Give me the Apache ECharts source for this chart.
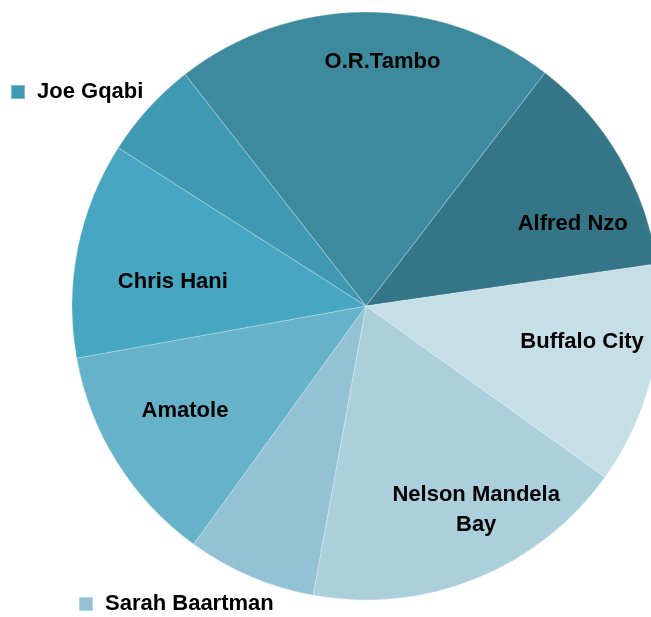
<!DOCTYPE html>
<html>
<head>
<meta charset="utf-8">
<title>Eastern Cape districts</title>
<script src="https://cdn.jsdelivr.net/npm/echarts@6/dist/echarts.min.js"></script>
<style>
  html, body { margin: 0; padding: 0; background: #ffffff; }
  #chart { width: 651px; height: 617px; }
</style>
</head>
<body>
<div id="chart"></div>
<script>
// District shares (%), listed clockwise from O.R.Tambo
const districts = ['O.R.Tambo', 'Alfred Nzo', 'Buffalo City', 'Nelson Mandela Bay',
                   'Sarah Baartman', 'Amatole', 'Chris Hani', 'Joe Gqabi'];
const shares = [21.0, 12.3, 12.2, 18.0, 7.1, 12.2, 11.9, 5.4];

// Slice fills
const sliceColors = ['#3d8a9e', '#347688', '#c6dee6', '#abd0dc',
                     '#92c2d3', '#65b2ca', '#47a6c1', '#4099b3'];

// Label text shown inside a slice (empty = named in a legend instead)
const sliceLabels = ['O.R.Tambo', 'Alfred Nzo', 'Buffalo City', 'Nelson Mandela\nBay',
                     '', 'Amatole', 'Chris Hani', ''];

// Label placement: fraction of the radius and turn (deg, clockwise) from slice middle
const labelRadius = [0.832, 0.757, 0.745, 0.788, 0, 0.712, 0.662, 0];
const labelTurn = [4.1, 8.6, -4.3, -6.4, 0, 2.0, -4.2, 0];

const CX = 366, CY = 306, R = 294;
const START_ANGLE = 128; // degrees, ECharts convention (90 = 12 o'clock)

// Mid-angle of every slice, measured clockwise from 12 o'clock
const total = shares.reduce((a, b) => a + b, 0);
const startCw = 90 - START_ANGLE;
const midAngles = [];
let acc = startCw;
shares.forEach(v => {
  const span = v / total * 360;
  midAngles.push(acc + span / 2);
  acc += span;
});

const font = { fontFamily: '"Liberation Sans", Arial, sans-serif', fontWeight: 'bold', fontSize: 22, color: '#000000' };

const chart = echarts.init(document.getElementById('chart'), null, { renderer: 'canvas' });

chart.setOption({
  animation: false,
  color: sliceColors,
  legend: [
    {
      data: ['Joe Gqabi'],
      left: 10, top: 81,
      padding: 0,
      icon: 'rect', itemWidth: 14, itemHeight: 14,
      textStyle: Object.assign({ padding: [0, 0, 0, 7] }, font),
      selectedMode: false
    },
    {
      data: ['Sarah Baartman'],
      left: 78, top: 593,
      padding: 0,
      icon: 'rect', itemWidth: 14, itemHeight: 14,
      textStyle: Object.assign({ padding: [0, 0, 0, 7] }, font),
      selectedMode: false
    }
  ],
  series: [{
    type: 'pie',
    center: [CX, CY],
    radius: R,
    startAngle: START_ANGLE,
    clockwise: true,
    avoidLabelOverlap: false,
    itemStyle: { borderColor: 'rgba(255,255,255,0.35)', borderWidth: 0.8 },
    emphasis: { disabled: true },
    labelLine: { show: false },
    label: Object.assign({
      show: true,
      position: 'inside',
      align: 'center',
      verticalAlign: 'middle',
      lineHeight: 30,
      formatter: p => sliceLabels[p.dataIndex]
    }, font),
    labelLayout: p => {
      const i = p.dataIndex;
      const a = (midAngles[i] + labelTurn[i]) * Math.PI / 180;
      const r = labelRadius[i] * R;
      return { x: CX + r * Math.sin(a), y: CY - r * Math.cos(a), align: 'center', verticalAlign: 'middle' };
    },
    data: districts.map((name, i) => ({ name: name, value: shares[i] }))
  }]
});
</script>
</body>
</html>
